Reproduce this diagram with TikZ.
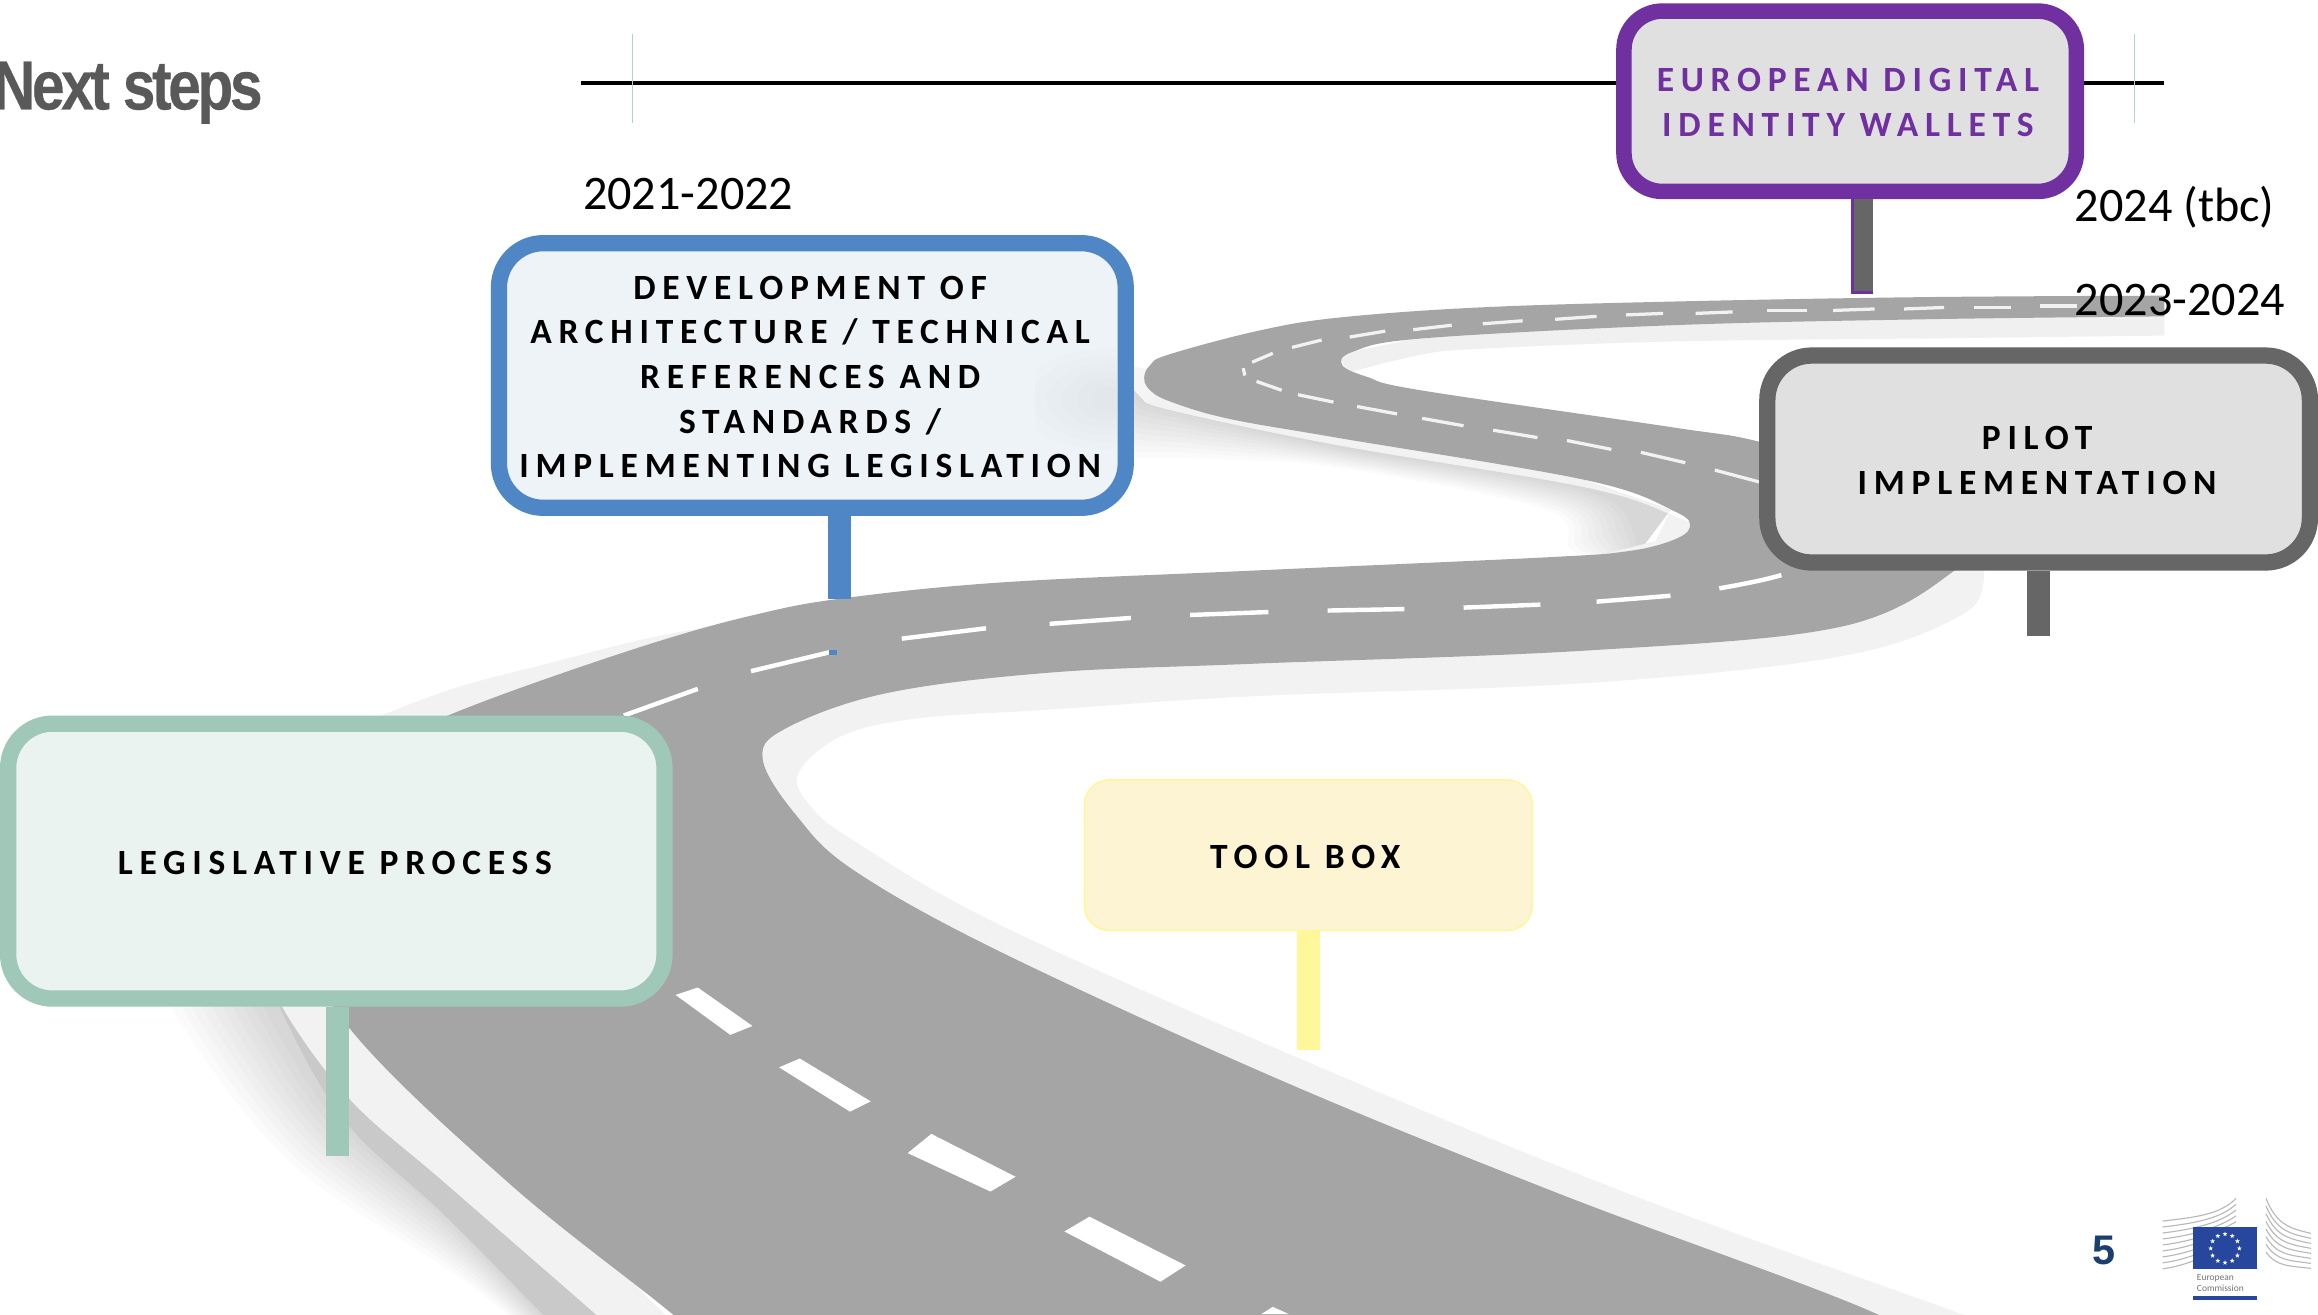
\documentclass[tikz,border=0pt]{standalone}
\usepackage{fontspec}
\usepackage{graphicx}
\usetikzlibrary{shapes.geometric}
\setmainfont{Carlito}
\newfontfamily\signfont[LetterSpace=19,Ligatures=NoCommon]{Carlito}
\newfontfamily\titlefont{Liberation Sans}
\newfontfamily\titletight[LetterSpace=-5.8,BoldFeatures={FakeBold=0.4}]{Liberation Sans}
\definecolor{roadgray}{HTML}{A5A5A5}
\definecolor{bandgray}{HTML}{F2F2F2}
\definecolor{blueedge}{HTML}{4F86C6}
\definecolor{bluefill}{HTML}{EEF3F8}
\definecolor{purpleedge}{HTML}{7030A0}
\definecolor{signgray}{HTML}{E0E0E0}
\definecolor{darkedge}{HTML}{666667}
\definecolor{greenedge}{HTML}{9FC8B8}
\definecolor{greenfill}{HTML}{EAF3EF}
\definecolor{toolfill}{HTML}{FDF4D3}
\definecolor{toolpost}{HTML}{FFF799}
\definecolor{tickgreen}{HTML}{B3D3C8}
\definecolor{ecblue}{HTML}{27479F}
\definecolor{pagenum}{HTML}{1A3E6E}
\newcommand{\signtext}[3]{\makebox[0pt]{\hspace*{#1pt}\raisebox{#2pt}[0pt][0pt]{\begin{tabular}{@{}c@{}}#3\end{tabular}}}}
\tikzset{
  sign/.style={rectangle,rounded corners=30pt,line width=11pt,inner sep=0pt,align=center,
    text=black,font=\signfont\bfseries\fontsize{24}{30.2}\selectfont},
  post/.style={line width=15.5pt},
  datelabel/.style={inner sep=0pt,text=black,font=\fontsize{32.6}{38}\selectfont},
  dash1/.style={draw=white,line width=3pt},
  dash2/.style={draw=white!85!roadgray,line width=2.2pt},
  softlayer/.style={fill=black,opacity=.016},
}
\begin{document}
\begin{tikzpicture}[x=1pt,y=-1pt]
\useasboundingbox (0,0) rectangle (1568,888.9);
\fill[white] (0,0) rectangle (1568,888.9);
\begin{scope}
\clip (0,0) rectangle (1568,888.9);
% soft shadow, lower left
\foreach \t in {0,.1,...,.95}
  \fill[softlayer] plot[smooth,tension=.6] coordinates {({115+63*\t},660) ({121+69*\t},690) ({195+38*\t},{785-27*\t}) (302,{858-37*\t}) ({343+24*\t},889) ({358+22*\t},905)} -- (460,905) -- (240,680) -- cycle;
% grey and white kerbs, lower left
\fill[black!21] plot[smooth,tension=.6] coordinates {(180,650) (190,683) (233,758) (302,823) (367,889) (378,900)} -- (460,900) -- (240,680) -- cycle;
\fill[bandgray] plot[smooth,tension=.6] coordinates {(182,650) (192,683) (237,744) (302,801) (403,889) (415,900)} -- (460,900) -- (240,680) -- cycle;
% kerb above the road, left
\fill[black!5] plot[smooth,tension=.6] coordinates {(258,484) (309,465) (370,449) (433,433) (500,420)} -- (500,440) -- (303,490) -- cycle;
% kerb of the inner bend, lower right
\fill[bandgray] plot[smooth,tension=.6] coordinates {(1335,360) (1342,392) (1325,417) (1245,444) (1074,462) (847,471) (710,480) (620,486) (569,498) (540,523) (548,545) (578,569) (677,626) (886,719) (1103,808) (1327,889) (1350,900)} -- (1000,900) -- (500,600) -- (480,480) -- (900,420) -- (1300,380) -- cycle;
% kerb and shadow of the upper bend
\foreach \t in {0,.1,...,.95}
  \fill[softlayer] plot[smooth,tension=.6] coordinates {({757+12*\t},262) ({757+15*\t},{305-37*\t}) ({810-10*\t},{310-33*\t}) (904,{316-15*\t}) ({1046+28*\t},{345-15*\t}) ({1063+47*\t},{372-12*\t}) (1100,385)} -- (1130,345) -- (1000,300) -- (800,262) -- cycle;
\fill[bandgray] plot[smooth,tension=.6] coordinates {(767,255) (772,268) (790,277) (904,301) (1074,330) (1135,350) (1149,358) (1136,372) (1100,378) (1060,381)} -- (1120,366) -- (1130,345) -- (1000,300) -- (800,262) -- cycle;
% kerb below the top stretch
\fill[black!6] (1464,210) -- (1464,227) -- plot[smooth,tension=.6] coordinates {(1300,229) (1131,231) (1000,236) (961,240) (912,252)} -- (905,240) -- (1000,220) -- cycle;
\fill[black!4] plot[smooth,tension=.6] coordinates {(767,248) (763,258) (775,272)} -- (800,255) -- cycle;
% road surface
\fill[roadgray]
  plot[smooth,tension=.6] coordinates {(500,930) (455,889) (345,801) (236,695) (192,610) (210,550) (250,508) (303,484) (367,460) (448,433) (510,416) (568,405) (677,394) (847,386) (1046,377) (1100,373) (1130,366) (1143,357) (1133,346) (1074,325) (904,296) (830,283) (790,271) (777,263) (774,255) (778,247) (790,240) (850,224) (904,215) (1000,208) (1131,204) (1300,201) (1464,200)}
  -- plot[smooth,tension=.6] coordinates {(1464,214) (1300,216) (1131,220) (961,229) (915,238) (908,247) (925,255) (961,264) (1131,289) (1191,299) (1280,325) (1335,360) (1322,386) (1245,424) (1074,440) (847,449) (710,455) (599,469) (531,493) (516,514) (539,552) (578,589) (677,644) (867,731) (1056,808) (1270,889) (1330,930)}
  -- cycle;
% centre line, near part
\fill[white] (457,673) -- (472,668) -- (509,694) -- (494,700) -- cycle;
\fill[white] (527,722) -- (541,716) -- (589,745) -- (575,752) -- cycle;
\fill[white] (614,780) -- (630,767) -- (687,796) -- (670,806) -- cycle;
\fill[white] (720,833) -- (737,823) -- (802,856) -- (785,867) -- cycle;
\fill[white] (853,889) -- (861,884) -- (872,889) -- cycle;
% centre line, middle part
\foreach \ax/\ay/\bx/\by in {422/484/472/466,508/454/562/441,610/432/667/425,710/422/765/418,805/416/858/414,898/413/950/412,990/411/1042/409,1080/407/1130/403}
  \draw[dash1] (\ax,\ay) -- (\bx,\by);
\draw[dash1] (1163,398) .. controls (1180,395) and (1195,392) .. (1205,389);
\fill[blueedge] (561,440) rectangle (566,443);
% centre line, far part
\foreach \ax/\ay/\bx/\by in {1160/318/1190/326,1110/306/1140/313,1060/298/1090/304,1010/291/1040/296,962/283/990/288,918/275/945/280,878/267/902/272,850/258/867/264,841/249/842/254,847/245/861/239,874/235/894/230,913/228/937/224,956/223/982/220,1003/219/1030/217,1052/216/1080/214,1100/213/1125/212,1147/212/1172/211,1195/210/1222/210,1240/210/1268/209,1288/209/1315/208,1335/208/1360/208,1380/207/1405/207}
  \draw[dash2] (\ax,\ay) -- (\bx,\by);
\end{scope}

% timeline
\coordinate (lineL) at (393,56);
\coordinate (lineR) at (1464,56);
\coordinate (tickAtop) at (428,23);
\coordinate (tickAbot) at (428,83);
\coordinate (tickBtop) at (1444,23);
\coordinate (tickBbot) at (1444,83);
\draw[black,line width=2.6pt] (lineL) -- (lineR);
\draw[tickgreen,line width=1pt] (tickAtop) -- (tickAbot);
\draw[tickgreen,line width=1pt] (tickBtop) -- (tickBbot);

% signs
\node[sign,draw=greenedge,fill=greenfill,minimum width=444pt,minimum height=186pt] (legis) at (227.5,582.5) {\signtext{-2}{-9}{LEGISLATIVE PROCESS}};
\node[sign,draw=blueedge,fill=bluefill,minimum width=424pt,minimum height=179pt] (devel) at (549.5,254) {\signtext{-3}{-9}{DEVELOPMENT OF\\ARCHITECTURE / TECHNICAL\\REFERENCES AND\\STANDARDS /\\IMPLEMENTING LEGISLATION}};
\begin{scope}
\clip (700,230) rectangle (755.5,320);
\foreach \r in {1,...,6}
  \fill[black,opacity=.008] (748,270) ellipse ({10*\r} and {5*\r+4});
\end{scope}
\node[sign,draw=purpleedge,fill=signgray,minimum width=306pt,minimum height=122pt,text=purpleedge,line width=10.5pt,rounded corners=26pt] (wallet) at (1251.5,68.5) {\signtext{-3}{-9}{EUROPEAN DIGITAL\\IDENTITY WALLETS}};
\node[sign,draw=darkedge,fill=signgray,minimum width=367pt,minimum height=140pt] (pilot) at (1379,310.5) {\signtext{-2}{-9}{PILOT\\IMPLEMENTATION}};
\node[sign,draw=toolpost,fill=toolfill,minimum width=303pt,minimum height=102pt,line width=1pt,rounded corners=17pt] (tool) at (885,578.5) {\signtext{-4}{-9}{TOOL BOX}};

% posts
\coordinate (legisEnd) at (228.3,782);
\coordinate (develEnd) at (568,405);
\coordinate (toolEnd) at (885,710);
\coordinate (pilotEnd) at (1379,430);
\coordinate (walletEnd) at (1259.5,199);
\coordinate (walletEndIn) at (1260.5,197);
\draw[post,greenedge] (legisEnd |- legis.south) -- (legisEnd);
\draw[post,blueedge] (develEnd |- devel.south) -- (develEnd);
\draw[post,toolpost] (toolEnd |- tool.south) -- (toolEnd);
\draw[post,darkedge] (pilotEnd |- pilot.south) -- (pilotEnd);
\draw[post,purpleedge,line width=15pt] (walletEnd |- wallet.south) -- (walletEnd);
\draw[post,darkedge,line width=13pt] (walletEndIn |- wallet.south) -- (walletEndIn);

% dates
\node[datelabel] (d1) at (465.5,131) {2021-2022};
\node[datelabel] (d2) at (1471,140) {2024 (tbc)};
\node[datelabel] (d3) at (1474.5,203) {2023-2024};

% title
\node[inner sep=0pt,anchor=base west,text={rgb,255:red,89;green,89;blue,89}] (title) at (-5,74) {\scalebox{.845}[1]{\titletight\bfseries\fontsize{47}{50}\selectfont Next steps}};

% page number
\node[inner sep=0pt,text=pagenum] (page) at (1423.5,846) {\titlefont\bfseries\fontsize{28}{30}\selectfont 5};

% European Commission logo
\begin{scope}[x=.2255pt,y=-.2255pt,shift={(1386.7pt,-784.7pt)}]
  \clip (330,105) rectangle (790,430);
  \foreach \i in {0,...,8} {
    \draw[black!28,line width=.75pt] (338,{183+\i*17.9}) .. controls (430,{172+\i*17.9}) and (510,{165+\i*12}) .. (558,{115+\i*17.5});
  }
  \foreach \i in {0,...,7} {
    \draw[black!28,line width=.75pt] (648,{115+\i*23}) .. controls (680,{195+\i*18}) and (720,{205+\i*16}) .. (783,{220+\i*15});
  }
  \fill[ecblue] (430,201) rectangle (621,328);
  \foreach \a in {0,30,...,330}
    \node[star,star points=5,star point ratio=2.4,fill=white,inner sep=0pt,minimum size=3.4pt] (st\a) at ({525+43*cos(\a)},{265+43*sin(\a)}) {};
  \node[inner sep=0pt,anchor=base west,text=black!55,align=left,font=\fontsize{6.4}{7}\selectfont] (ecA) at (440,362) {European};
  \node[inner sep=0pt,anchor=base west,text=black!55,align=left,font=\fontsize{6.4}{7}\selectfont] (ecB) at (440,393) {Commission};
  \fill[ecblue] (430,409) rectangle (621,419);
\end{scope}
\end{tikzpicture}
\end{document}
